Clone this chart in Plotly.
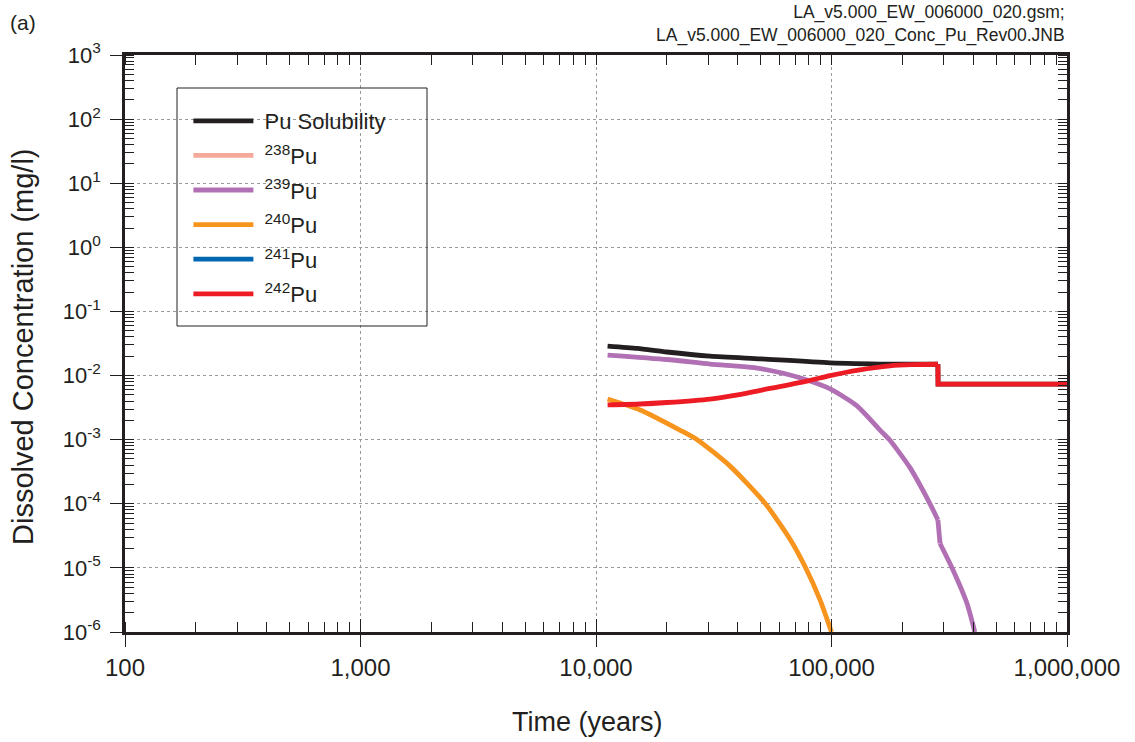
import plotly.graph_objects as go

# ---------------- data ----------------
sol_t = [11200, 15000, 20000, 30500, 50000, 98600, 177000, 283000, 283500, 1000000]
sol_c = [0.0288, 0.0265, 0.0233, 0.0201, 0.0182, 0.0158, 0.0151, 0.0150, 0.00736, 0.00736]

pu239_t = [11200, 20000, 30500, 40000, 48300, 66700, 78700, 98600, 128000, 161000, 177000,
           215000, 262000, 283000, 289000, 328000, 376000, 406000]
pu239_c = [0.0209, 0.0178, 0.0151, 0.0140, 0.0131, 0.0102, 0.0085, 0.0062, 0.0034, 0.0014, 0.00098,
           3.7e-4, 1.0e-4, 5.6e-5, 2.4e-5, 9.3e-6, 2.8e-6, 1.0e-6]

pu240_t = [11200, 15400, 22800, 26900, 37000, 52200, 66700, 77200, 89300, 100000]
pu240_c = [0.0043, 0.0029, 0.0014, 0.0010, 3.9e-4, 1.02e-4, 2.8e-5, 1.05e-5, 3.2e-6, 1.0e-6]

pu242_t = [11200, 15400, 20000, 30500, 40000, 54800, 78700, 98600, 130000, 177000,
           220000, 283000, 283500, 1000000]
pu242_c = [0.0035, 0.0036, 0.0038, 0.0043, 0.0050, 0.0063, 0.0082, 0.0100, 0.0122, 0.0142,
           0.0148, 0.0150, 0.00736, 0.00736]

x_tickvals = [100, 1000, 10000, 100000, 1000000]
x_ticktext = ["100", "1,000", "10,000", "100,000", "1,000,000"]
y_exps = [-6, -5, -4, -3, -2, -1, 0, 1, 2, 3]
y_tickvals = [10.0 ** e for e in y_exps]
y_ticktext = ["10<sup>%d</sup>" % e for e in y_exps]

names = ["Pu Solubility", "<sup>238</sup>Pu", "<sup>239</sup>Pu",
         "<sup>240</sup>Pu", "<sup>241</sup>Pu", "<sup>242</sup>Pu"]
colors = ["#231f20", "#f4a99b", "#b170b4", "#f7941d", "#0067b1", "#ed1c24"]

FONT = "Liberation Sans, Arial, sans-serif"
INK = "#231f20"
LW = 4.8

# (times, concentrations, segments: list of (start, end, shape))
series = [
    (sol_t, sol_c, [(0, 7, "spline"), (7, 9, "linear")]),
    ([None], [None], [(0, 0, "linear")]),
    (pu239_t, pu239_c, [(0, 13, "spline"), (13, 14, "linear"), (14, 17, "spline")]),
    (pu240_t, pu240_c, [(0, 9, "spline")]),
    ([None], [None], [(0, 0, "linear")]),
    (pu242_t, pu242_c, [(0, 11, "spline"), (11, 13, "linear")]),
]

fig = go.Figure()
for i, ((t, c, segs), nm, col) in enumerate(zip(series, names, colors)):
    for k, (a, b, shp) in enumerate(segs):
        fig.add_trace(go.Scatter(
            x=t[a:b + 1], y=c[a:b + 1], mode="lines",
            name="&nbsp;" + nm,
            line=dict(color=col, width=LW, shape=shp, smoothing=0.6),
            legendgroup="g%d" % i, showlegend=(k == 0)))

# helper traces so the overlay axes are drawn
fig.add_trace(go.Scatter(x=[None], y=[None], xaxis="x2", yaxis="y2",
                         showlegend=False, hoverinfo="skip"))
fig.add_trace(go.Scatter(x=[None], y=[None], xaxis="x3", yaxis="y",
                         showlegend=False, hoverinfo="skip"))

fig.update_layout(
    width=1135, height=742,
    margin=dict(l=125, r=68, t=55, b=110),
    paper_bgcolor="white", plot_bgcolor="white",
    font=dict(family=FONT, color=INK),
    xaxis=dict(
        type="log", range=[2, 6],
        showline=True, linecolor=INK, linewidth=2.5, mirror=True,
        ticks="outside", ticklen=12, tickwidth=1.3, tickcolor=INK,
        showgrid=True, gridcolor="#9a9a9a", griddash="dot", gridwidth=1,
        zeroline=False,
        tickvals=x_tickvals, ticktext=x_ticktext,
        tickfont=dict(family=FONT, size=24, color=INK),
        ticklabelstandoff=0,
        minor=dict(ticks="inside", ticklen=10, tickwidth=1, tickcolor=INK,
                   dtick="D1", showgrid=False),
    ),
    yaxis=dict(
        type="log", range=[-6, 3],
        showline=True, linecolor=INK, linewidth=2.5, mirror=True,
        ticks="outside", ticklen=12, tickwidth=1.3, tickcolor=INK,
        showgrid=True, gridcolor="#9a9a9a", griddash="dot", gridwidth=1,
        zeroline=False,
        tickvals=y_tickvals, ticktext=y_ticktext,
        tickfont=dict(family=FONT, size=22, color=INK),
        ticklabelstandoff=5,
        minor=dict(ticks="inside", ticklen=9, tickwidth=1, tickcolor=INK,
                   dtick="D1", showgrid=False),
    ),
    # top / right minor ticks (inside)
    xaxis2=dict(type="log", range=[2, 6], overlaying="x", side="top", anchor="y",
                showline=False, showgrid=False, zeroline=False, showticklabels=False,
                ticks="", tickvals=x_tickvals,
                minor=dict(ticks="inside", ticklen=10, tickwidth=1, tickcolor=INK,
                           dtick="D1", showgrid=False)),
    yaxis2=dict(type="log", range=[-6, 3], overlaying="y", side="right", anchor="x",
                showline=False, showgrid=False, zeroline=False, showticklabels=False,
                ticks="", tickvals=y_tickvals,
                minor=dict(ticks="inside", ticklen=9, tickwidth=1, tickcolor=INK,
                           dtick="D1", showgrid=False)),
    # bottom major ticks crossing into the plot
    xaxis3=dict(type="log", range=[2, 6], overlaying="x", side="bottom", anchor="y",
                showline=False, showgrid=False, zeroline=False, showticklabels=False,
                ticks="inside", ticklen=13, tickwidth=1.3, tickcolor=INK,
                tickvals=x_tickvals),
    legend=dict(
        x=0.0673, y=0.922, xanchor="left", yanchor="top",
        bgcolor="rgba(0,0,0,0)", borderwidth=0,
        font=dict(family=FONT, size=22, color=INK),
        itemwidth=60, tracegroupgap=3,
    ),
    shapes=[dict(type="rect", xref="paper", yref="paper",
                 x0=(177 - 125) / 942, x1=(427 - 125) / 942,
                 y0=1 - (326 - 55) / 577, y1=1 - (88 - 55) / 577,
                 line=dict(color=INK, width=1), fillcolor="rgba(0,0,0,0)",
                 layer="above")],
    annotations=[
        dict(text="(a)", xref="paper", yref="paper", x=-0.124, y=1.057,
             xanchor="left", yanchor="middle", showarrow=False,
             font=dict(family=FONT, size=21)),
        dict(text="LA_v5.000_EW_006000_020.gsm;<br>LA_v5.000_EW_006000_020_Conc_Pu_Rev00.JNB",
             xref="paper", yref="paper", x=1.0, y=1.0, yshift=7,
             xanchor="right", yanchor="bottom", align="right", showarrow=False,
             font=dict(family=FONT, size=17.5)),
        dict(text="Time (years)", xref="paper", yref="paper",
             x=(587 - 125) / 942, y=1 - (722 - 55) / 577,
             xanchor="center", yanchor="middle", showarrow=False,
             font=dict(family=FONT, size=27)),
        dict(text="Dissolved Concentration (mg/l)", xref="paper", yref="paper",
             x=(23 - 125) / 942, y=1 - (347 - 55) / 577, textangle=-90,
             xanchor="center", yanchor="middle", showarrow=False,
             font=dict(family=FONT, size=29)),
    ],
)

fig.write_html("out.html")
